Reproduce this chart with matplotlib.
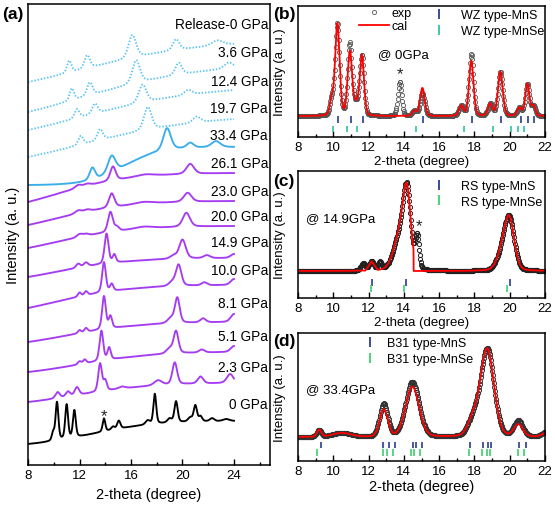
import numpy as np
import matplotlib.pyplot as plt
from matplotlib.lines import Line2D
from matplotlib.ticker import MultipleLocator

plt.rcParams['font.family'] = ['Liberation Sans', 'DejaVu Sans']
plt.rcParams['xtick.direction'] = 'in'
plt.rcParams['ytick.direction'] = 'in'

# ---------------- panel (a): stacked patterns ----------------
# every pattern = smooth background + peaks given as (2-theta, height, half width)
labels_a = ['Release-0 GPa', '3.6 GPa', '12.4 GPa', '19.7 GPa', '33.4 GPa', '26.1 GPa',
            '23.0 GPa', '20.0 GPa', '14.9 GPa', '10.0 GPa', '8.1 GPa', '5.1 GPa',
            '2.3 GPa', '0 GPa']
label_y = [441, 413, 384, 357, 330, 302, 274, 249, 223, 195, 162, 129, 98, 61]
start_y = [383, 353, 335, 308, 280, 263, 240, 217, 188, 157, 123, 93, 63, 21]
end_y = [421, 397, 375, 346, 318, 292, 264, 239, 207, 180, 143, 113, 82, 44]
bg_mid = [12, 12, 12, 12, 15.5, 10, 10, 10, 10, 10, 11, 12, 12, 13]
bg_width = [5, 5, 5, 5, 1.4, 3, 3, 3, 3, 3, 3, 3, 3, 2.5]

peaks_rel = [(11.2, 12, .2), (12.6, 13, .25), (16.1, 23, .35), (19.5, 11, .3), (22.7, 5, .5)]
peaks_3p6 = [(11.4, 12, .2), (12.8, 13, .25), (16.4, 23, .35), (19.7, 12, .3), (23.6, 6, .4)]
peaks_12p4 = [(11.8, 9, .22), (13.2, 10, .25), (16.9, 18, .35), (20.45, 5, .35)]
peaks_19p7 = [(12.1, 9, .22), (13.6, 11, .25), (17.3, 23, .35), (21.1, 6, .35)]
peaks_33p4 = [(13.0, 12, .25), (14.5, 17, .35), (18.8, 22, .35), (20.6, 5, .3), (22.6, 6, .4)]
peaks_26p1 = [(11.9, 3, .3), (12.6, 2, .3), (14.6, 14, .25), (17.1, 2, .8), (20.6, 10, .35)]
peaks_23p0 = [(11.9, 3, .3), (12.6, 2, .3), (14.5, 14, .25), (17.0, 2, .8), (20.4, 9, .35)]
peaks_20p0 = [(12.0, 3, .25), (12.5, 2, .25), (14.4, 20, .22), (14.9, 4, .2), (17.0, 2, .8),
              (20.3, 14, .33)]
peaks_14p9 = [(11.9, 4, .2), (12.5, 4, .2), (14.1, 30, .18), (14.7, 8, .15), (19.3, 3, .3),
              (20.0, 19, .3), (21.9, 3, .3), (24.0, 4, .3)]
peaks_10p0 = [(12.0, 4, .15), (12.5, 4, .15), (13.9, 30, .17), (14.5, 7, .15), (19.2, 4, .3),
              (19.7, 21, .25), (21.7, 3, .25), (24.0, 6, .3)]
peaks_8p1 = [(12.0, 3, .15), (12.5, 4, .15), (13.9, 33, .17), (14.4, 12, .15), (19.1, 5, .3),
             (19.6, 25, .22), (21.6, 4, .25), (24.0, 8, .3)]
peaks_5p1 = [(12.0, 3, .15), (12.4, 4, .15), (13.7, 30, .17), (14.3, 12, .15), (19.0, 5, .3),
             (19.5, 22, .22), (21.5, 3, .25), (24.0, 6, .3)]
peaks_2p3 = [(10.3, 6, .2), (11.1, 5, .2), (11.8, 8, .2), (13.6, 28, .17), (14.0, 10, .15),
             (15.3, 2, .3), (18.1, 5, .35), (19.4, 22, .22), (21.4, 7, .25), (23.7, 9, .3)]
peaks_0 = [(9.95, 8, .12), (10.25, 38, .13), (11.0, 34, .13), (11.6, 27, .13), (13.9, 13, .12),
           (14.6, 3, .15), (15.05, 8, .15), (17.3, 4, .2), (17.85, 30, .13), (19.0, 4, .2),
           (19.5, 21, .15), (20.6, 4, .2), (21.0, 16, .15), (21.4, 5, .15), (22.3, 3, .2),
           (23.4, 2, .3)]
peaks_a = [peaks_rel, peaks_3p6, peaks_12p4, peaks_19p7, peaks_33p4, peaks_26p1, peaks_23p0,
           peaks_20p0, peaks_14p9, peaks_10p0, peaks_8p1, peaks_5p1, peaks_2p3, peaks_0]

# ---------------- panel (b): 0 GPa refinement ----------------
base_b = 21
peaks_b_exp = [(9.9, 15, .12), (10.23, 92, .15), (10.94, 72, .15), (11.3, 10, .15),
               (11.62, 60, .14), (13.77, 34, .13), (14.6, 5, .15), (15.05, 23, .15),
               (17.25, 10, .15), (17.82, 62, .15), (18.9, 12, .15), (19.47, 44, .16),
               (20.55, 8, .15), (21.0, 32, .14), (21.35, 10, .12)]
peaks_b_cal = [(9.9, 15, .12), (10.23, 92, .15), (10.94, 64, .15), (11.3, 10, .15),
               (11.62, 60, .14), (14.6, 5, .15), (15.05, 28, .15),
               (17.25, 10, .15), (17.82, 55, .15), (18.9, 12, .15), (19.47, 44, .16),
               (20.55, 8, .15), (21.0, 32, .14), (21.35, 10, .12)]
wz_mns = [10.28, 10.98, 11.66, 15.08, 17.85, 19.51, 20.64, 21.02, 21.39]
wz_mnse = [9.96, 10.75, 11.37, 14.71, 17.38, 19.04, 20.08, 20.45, 20.83]

# ---------------- panel (c): 14.9 GPa refinement ----------------
base_c = 27
peaks_c_exp = [(11.7, 7, .15), (12.17, 9, .15), (12.64, 8, .12), (13.85, 40, .45),
               (14.18, 60, .24), (14.75, 32, .13), (19.55, 15, .35), (19.98, 50, .33)]
peaks_c_main = [(13.85, 40, .45), (14.18, 60, .24)]
peaks_c_far = [(19.55, 15, .35), (19.98, 50, .33)]
tri_c = (12.17, 9, 0.35)
cut_c = 14.55
rs_mns = [12.22, 14.14, 20.02]
rs_mnse = [12.13, 14.0, 19.83]

# ---------------- panel (d): 33.4 GPa refinement ----------------
base_d = 24
peaks_d_exp = [(9.19, 7, .15), (10.47, 4, .6), (12.86, 33, .27), (14.48, 55, .45),
               (17.9, 15, .35), (18.72, 88, .45), (20.49, 16, .3), (22.1, 5, .3)]
peaks_d_cal = [(9.19, 7, .15), (10.47, 4, .6), (12.86, 27, .27), (14.48, 50, .45),
               (17.9, 15, .35), (18.72, 88, .45), (20.49, 12, .3), (22.1, 4, .3)]
b31_mns = [9.28, 12.82, 13.16, 13.48, 14.52, 14.71, 15.05, 17.76, 18.47, 18.79, 18.94,
           20.55, 20.92]
b31_mnse = [9.06, 12.79, 13.05, 13.39, 14.39, 14.58, 14.93, 17.68, 18.44, 18.7, 18.89,
            20.45, 20.83]

navy = '#2A3C8E'
teal = '#2EC4A0'
green = '#3DCF6E'
purple = '#A63CF2'
light_blue = '#55C3F5'
blue = '#3AAEEA'


def profile(x, peaks, eta=0.3):
    y = np.zeros_like(x)
    for c, a, w in peaks:
        u = ((x - c) / w) ** 2
        y += a * ((1 - eta) * np.exp(-np.log(2) * u) + eta / (1 + u))
    return y


def background(x, y0, y1, mid, width):
    s = lambda t: 1 / (1 + np.exp(-(t - mid) / width))
    return y0 + (y1 - y0) * (s(x) - s(8)) / (s(24) - s(8))


def style_ticks(ax, major, minor):
    ax.xaxis.set_major_locator(MultipleLocator(major))
    ax.xaxis.set_minor_locator(MultipleLocator(minor))
    ax.tick_params(axis='x', which='major', length=4, width=1, labelsize=9.5, pad=3)
    ax.tick_params(axis='x', which='minor', length=2.5, width=1)
    ax.set_yticks([])
    for sp in ax.spines.values():
        sp.set_linewidth(1.1)


fig = plt.figure(figsize=(5.55, 5.06), dpi=100)

# ---- (a) ----
ax = fig.add_axes([0.0505, 0.079, 0.436, 0.911])
x_a = np.linspace(8, 24, 1200)
colors_a = [light_blue] * 4 + [blue] + [purple] * 8 + ['black']
for i, pk in enumerate(peaks_a):
    y = background(x_a, start_y[i], end_y[i], bg_mid[i], bg_width[i]) + profile(x_a, pk, 0.35)
    if i < 4:
        ax.plot(x_a, y, color=colors_a[i], lw=1.3, ls=(0, (0.8, 1.0)))
    else:
        ax.plot(x_a, y, color=colors_a[i], lw=1.35)
    ax.text(26.65, label_y[i], labels_a[i], ha='right', va='center', fontsize=9.8)
ax.text(13.9, 49, '*', ha='center', va='center', fontsize=12, color='#222')
ax.set_xlim(8, 26.8)
ax.set_ylim(0, 461)
style_ticks(ax, 4, 2)
ax.set_xlabel('2-theta (degree)', fontsize=10.5, labelpad=4)
ax.set_ylabel('Intensity (a. u.)', fontsize=10.5)
ax.yaxis.set_label_coords(-0.035, 0.5)
fig.text(0.004, 0.972, '(a)', fontsize=12.5, fontweight='bold', va='center')

# ---- (b) ----
ax = fig.add_axes([0.537, 0.727, 0.445, 0.259])
xe = np.arange(8, 22.001, 0.03)
xf = np.linspace(8, 22, 1400)
ax.plot(xe, base_b + profile(xe, peaks_b_exp, 0.2), 'o', mfc='none', mec='#555555',
        ms=3, mew=0.6, label='exp')
ax.plot(xf, base_b + profile(xf, peaks_b_cal, 0.2), color='red', lw=1.3, label='cal')
ax.vlines(wz_mns, 14, 21, color=navy, lw=1.2)
ax.vlines(wz_mnse, 5, 11, color=teal, lw=1.2)
ax.text(13.8, 63, '*', ha='center', va='center', fontsize=12, color='#222')
ax.text(0.324, 0.634, '@ 0GPa', transform=ax.transAxes, fontsize=9.5, va='center')
ax.set_xlim(8, 22)
ax.set_ylim(0, 131)
style_ticks(ax, 2, 1)
ax.set_xlabel('2-theta (degree)', fontsize=9.5, labelpad=1)
ax.set_ylabel('Intensity (a. u.)', fontsize=9.5)
ax.yaxis.set_label_coords(-0.05, 0.5)
leg1 = ax.legend(loc='upper left', bbox_to_anchor=(0.245, 0.99), frameon=False, fontsize=9,
                 handlelength=2.4, handletextpad=0.2, labelspacing=0.05, borderpad=0,
                 borderaxespad=0)
ax.add_artist(leg1)
h_wz = [Line2D([], [], ls='none', marker='|', ms=7, mew=1.3, color=navy),
        Line2D([], [], ls='none', marker='|', ms=7, mew=1.3, color=teal)]
ax.legend(h_wz, ['WZ type-MnS', 'WZ type-MnSe'], loc='upper left',
          bbox_to_anchor=(0.534, 0.975), frameon=False, fontsize=9, handlelength=1.5,
          handletextpad=1.0, labelspacing=0.3, borderpad=0, borderaxespad=0)
fig.text(0.492, 0.972, '(b)', fontsize=12.5, fontweight='bold', va='center')

# ---- (c) ----
ax = fig.add_axes([0.537, 0.409, 0.445, 0.251])
ax.plot(xe, base_c + profile(xe, peaks_c_exp, 0.2), 'o', mfc='none', mec='#222222',
        ms=3, mew=0.7)
main = profile(xf, peaks_c_main, 0.2)
main[(xf > cut_c) & (xf < 18)] = 0
c0, a0, hw0 = tri_c
tri = a0 * np.clip(1 - np.abs(xf - c0) / hw0, 0, None)
ax.plot(xf, base_c + main + profile(xf, peaks_c_far, 0.2) + tri, color='red', lw=1.3)
ax.vlines(rs_mns, 12, 19, color=navy, lw=1.2)
ax.vlines(rs_mnse, 6, 13, color=green, lw=1.2)
ax.text(14.85, 72, '*', ha='center', va='center', fontsize=12, color='#222')
ax.text(0.032, 0.63, '@ 14.9GPa', transform=ax.transAxes, fontsize=9.5, va='center')
ax.set_xlim(8, 22)
ax.set_ylim(0, 127)
style_ticks(ax, 2, 1)
ax.set_xlabel('2-theta (degree)', fontsize=9.5, labelpad=1)
ax.set_ylabel('Intensity (a. u.)', fontsize=9.5)
ax.yaxis.set_label_coords(-0.05, 0.5)
h_rs = [Line2D([], [], ls='none', marker='|', ms=7, mew=1.3, color=navy),
        Line2D([], [], ls='none', marker='|', ms=7, mew=1.3, color=green)]
ax.legend(h_rs, ['RS type-MnS', 'RS type-MnSe'], loc='upper left',
          bbox_to_anchor=(0.534, 0.93), frameon=False, fontsize=9, handlelength=1.5,
          handletextpad=1.0, labelspacing=0.3, borderpad=0, borderaxespad=0)
fig.text(0.492, 0.642, '(c)', fontsize=12.5, fontweight='bold', va='center')

# ---- (d) ----
ax = fig.add_axes([0.537, 0.087, 0.445, 0.253])
ax.plot(xe, base_d + profile(xe, peaks_d_exp, 0.15), 'o', mfc='none', mec='#333333',
        ms=3, mew=0.7)
ax.plot(xf, base_d + profile(xf, peaks_d_cal, 0.15), color='red', lw=1.3)
ax.vlines(b31_mns, 13, 19, color=navy, lw=1.2)
ax.vlines(b31_mnse, 5, 12, color=green, lw=1.2)
ax.text(0.032, 0.5625, '@ 33.4GPa', transform=ax.transAxes, fontsize=9.5, va='center')
ax.set_xlim(8, 22)
ax.set_ylim(0, 128)
style_ticks(ax, 2, 1)
ax.set_xlabel('2-theta (degree)', fontsize=10.5, labelpad=1)
ax.set_ylabel('Intensity (a. u.)', fontsize=9.5)
ax.yaxis.set_label_coords(-0.05, 0.5)
h_b31 = [Line2D([], [], ls='none', marker='|', ms=7, mew=1.3, color=navy),
         Line2D([], [], ls='none', marker='|', ms=7, mew=1.3, color=green)]
ax.legend(h_b31, ['B31 type-MnS', 'B31 type-MnSe'], loc='upper left',
          bbox_to_anchor=(0.255, 0.965), frameon=False, fontsize=9, handlelength=1.5,
          handletextpad=0.55, labelspacing=0.3, borderpad=0, borderaxespad=0)
fig.text(0.492, 0.326, '(d)', fontsize=12.5, fontweight='bold', va='center')

fig.savefig('out.png', dpi=100)
